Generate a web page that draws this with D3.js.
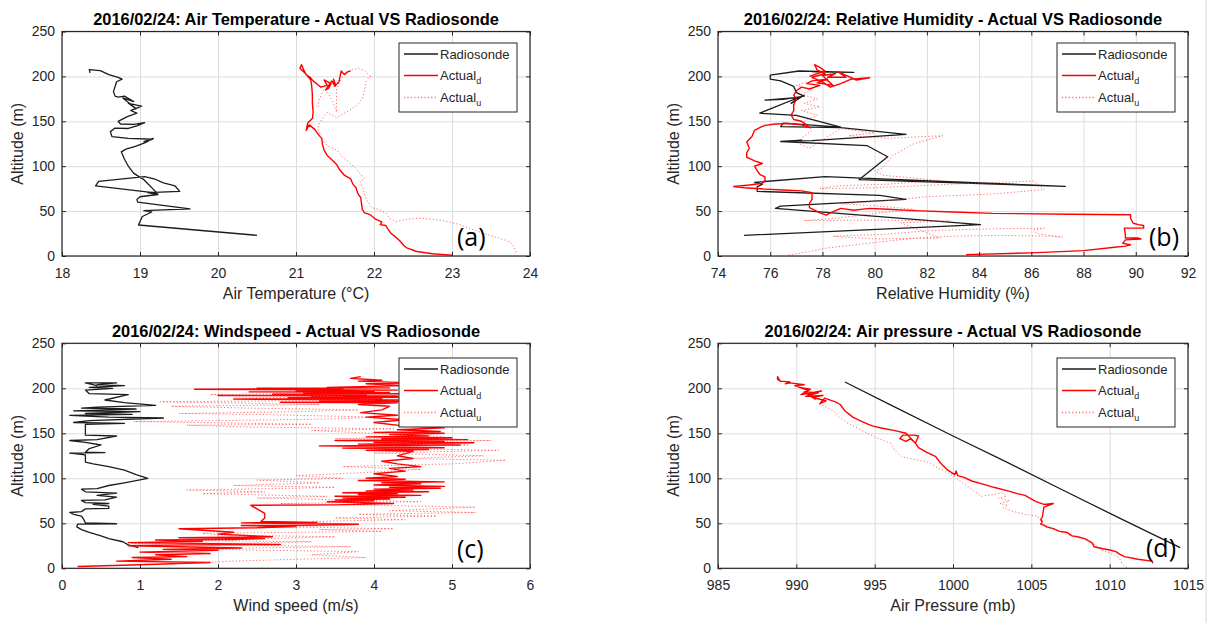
<!DOCTYPE html>
<html><head><meta charset="utf-8">
<script src="https://cdn.jsdelivr.net/npm/d3@7"></script>
<style>body{margin:0;background:#fff}svg{display:block}</style>
</head><body>
<svg id="c" width="1219" height="623"></svg>
<script>
// ---------- tick labels ----------
const altTicks = [0, 50, 100, 150, 200, 250];
const tempTicks = [18, 19, 20, 21, 22, 23, 24];
const rhTicks = [74, 76, 78, 80, 82, 84, 86, 88, 90, 92];
const windTicks = [0, 1, 2, 3, 4, 5, 6];
const pressTicks = [985, 990, 995, 1000, 1005, 1010, 1015];
const seriesNames = ["Radiosonde", "Actual", "Actual"];
const seriesSubs = ["", "d", "u"];

// ---------- (a) air temperature [°C, altitude m] ----------
const tempRadiosonde = [[20.50,23],[18.98,34.5],[19.03,44],[19.15,49],[19.05,50.5],[19.64,52.4],[18.97,60],[18.96,63],[19.0,66],[19.23,68.5],[19.10,70.5],[19.51,72],[19.45,78],[19.30,81.5],[19.18,86],[19.06,88.5],[18.47,83],[18.43,78],[19.22,70],[19.05,85],[18.92,92],[18.85,100],[18.80,108],[18.76,116],[18.82,119],[18.94,122],[19.06,126],[19.17,131],[19.05,127.5],[19.16,130],[18.85,131],[18.64,133],[18.62,138.5],[18.68,142.5],[18.85,142],[18.96,145],[19.06,148.5],[18.92,146.5],[18.75,147],[18.72,150],[18.83,155],[18.96,159],[18.88,162],[19.02,167],[18.85,170],[18.95,164],[18.78,176],[18.92,172],[18.80,178],[18.72,177],[18.68,178],[18.66,183],[18.70,194],[18.77,197],[18.72,199],[18.60,202],[18.49,206.5],[18.35,207.5],[18.36,204]];
const tempActualD = [[23.0,1],[22.75,2.5],[22.55,5],[22.42,9],[22.38,12],[22.33,17],[22.28,21],[22.22,25],[22.18,30],[22.15,34],[22.08,35],[22.10,38],[22.02,41],[21.98,44],[21.95,46],[21.88,48],[21.85,52],[21.84,58],[21.83,65],[21.79,70],[21.77,76],[21.73,80],[21.70,86],[21.62,90],[21.56,96],[21.52,102],[21.45,108],[21.40,112],[21.36,118],[21.34,124],[21.33,131],[21.28,136],[21.24,141],[21.17,146],[21.13,140],[21.15,148],[21.21,153],[21.22,160],[21.21,170],[21.21,180],[21.20,190],[21.19,196],[21.15,200],[21.10,205],[21.05,209],[21.07,213],[21.10,207],[21.13,202],[21.18,199],[21.22,195],[21.32,188],[21.40,190],[21.36,196],[21.45,192],[21.42,187],[21.38,185],[21.46,195],[21.50,189],[21.48,197],[21.51,190],[21.55,194],[21.58,206],[21.62,202],[21.66,205],[21.70,206]];
const tempActualU = [[23.82,4],[23.80,10],[23.74,16],[23.60,20],[23.45,24],[23.25,30],[23.10,35],[22.85,40],[22.60,42],[22.42,41],[22.28,38],[22.20,42],[22.15,48],[22.05,52],[21.97,54],[21.92,60],[21.88,68],[21.86,75],[21.82,83],[21.88,86],[21.84,90],[21.78,96],[21.70,103],[21.60,110],[21.52,118],[21.40,123],[21.35,128],[21.30,135],[21.28,142],[21.30,148],[21.36,156],[21.40,160],[21.52,154],[21.60,158],[21.68,162],[21.78,168],[21.85,175],[21.88,185],[21.90,195],[21.95,200],[21.97,199],[21.88,206],[21.80,209],[21.70,207],[21.62,204],[21.52,186],[21.52,160],[21.48,170],[21.42,180],[21.36,186],[21.30,175],[21.28,165]];

// ---------- (b) relative humidity [% , altitude m] ----------
const rhRadiosonde = [[75.0,23],[84.05,35],[76.2,53],[76.4,55.5],[81.2,63],[80.2,67.5],[75.5,72],[75.5,77],[75.7,80],[75.4,82],[78.1,88.5],[87.3,77.5],[79.4,85],[80.5,110.5],[79.7,123],[76.4,127.5],[77.2,129],[76.7,128],[77.6,128.5],[81.2,135.5],[78.7,143],[76.4,144],[76.5,148],[78.7,143.5],[77.0,156.5],[75.6,159],[77.3,179],[76.8,170],[77.1,176.5],[75.8,173.5],[76.5,174.5],[77.3,178],[77.0,182],[76.9,189],[76.4,195],[76.0,197],[76.0,201.5],[77.1,206],[79.2,204.5],[77.6,205]];
const rhActualD = [[83.5,1.5],[86.0,3.5],[88.0,6],[89.1,9.5],[89.6,11],[89.8,12.5],[89.5,14],[89.6,18],[90.2,19],[90.1,20],[89.6,20],[89.6,25],[89.56,31],[90.3,31],[90.3,34],[90.1,35],[89.9,36.5],[89.8,42],[89.8,46],[87.5,46.5],[84.5,47.5],[83.0,49],[81.5,50.5],[80.5,52],[79.8,53],[79.2,51],[78.7,53],[78.3,48],[78.15,45.5],[77.9,48],[77.7,51],[77.5,54],[77.5,58.5],[77.6,63],[77.6,68],[77.6,70.5],[77.2,72.5],[76.5,73.5],[75.8,74.5],[75.0,76],[74.6,77.4],[75.2,79],[75.7,81],[75.8,84],[75.8,88],[75.6,91],[75.5,95],[75.4,100],[75.7,103],[75.4,106],[75.1,110],[75.1,115],[75.2,120],[75.1,127],[75.3,133],[75.4,140],[75.6,143],[75.8,145.5],[76.2,147],[76.7,147.5],[77.2,146],[77.5,143],[77.3,148],[77.2,150],[76.9,152],[76.8,157],[76.9,162],[76.9,168],[77.0,175],[76.9,179],[77.0,184],[77.2,188],[77.5,186],[77.9,190],[77.4,192],[77.6,195],[78.2,197],[77.8,193],[78.4,190],[78.0,201],[78.5,203],[78.2,199],[78.9,199],[78.6,205],[79.3,196],[79.8,198.5],[79.1,197],[78.7,192],[78.3,188],[78.0,194],[77.6,199],[78.1,203],[77.8,207],[77.7,213],[77.9,210],[78.1,206],[77.5,200]];
const rhActualU = [[76.7,1],[77.5,5],[78.2,9],[80.3,16],[81.6,20],[82.9,22],[84.8,23],[86.7,22],[87.2,21],[86.2,25],[86.1,29],[86.5,31],[84.0,30],[82.0,28],[80.3,24],[78.4,22],[80.0,19],[82.5,20],[81.0,37],[82.9,39],[80.0,40],[77.3,39.5],[78.5,42],[80.2,48],[81.5,52],[80.0,56],[78.7,58],[80.6,62],[82.0,66],[84.5,69],[86.5,74],[86.1,83.5],[83.0,80],[80.0,76],[77.9,75],[78.5,78],[80.5,80],[82.5,84],[80.3,90],[80.0,95],[80.3,98],[80.7,112],[81.5,125],[82.6,134],[80.5,131],[79.0,134],[80.0,137],[78.7,142],[77.5,120],[77.1,125],[77.2,131],[77.6,140],[77.3,150],[77.8,157],[77.2,162],[77.9,166],[77.3,170],[77.8,175],[77.2,180],[77.6,185],[77.0,190],[77.4,194]];

// ---------- (c) wind speed [m/s, altitude m] ----------
const windRadiosonde = [[0.98,23],[0.85,26],[0.78,29.5],[0.6,33],[0.5,36],[0.35,40],[0.25,43],[0.19,46],[0.2,49],[0.7,49.5],[0.3,50.5],[0.28,54],[0.25,58],[0.15,60],[0.1,62],[0.25,63],[0.3,66],[0.6,66.5],[0.6,69],[0.4,71],[0.6,72],[0.3,73],[0.25,75.5],[0.55,76],[0.7,79],[0.45,81],[0.7,83.5],[0.3,85],[0.25,88],[0.45,88.5],[0.6,92],[0.8,95],[1.1,100],[0.95,104],[0.8,109],[0.6,113],[0.4,116],[0.3,118],[0.3,126],[0.1,128],[0.55,128.5],[0.3,129],[0.35,133],[0.5,137],[0.3,140],[0.1,142],[0.45,143],[0.7,147],[0.3,148],[0.3,155],[0.3,160],[0.8,161],[0.15,162],[0.35,164],[1.3,167],[0.6,168],[0.1,170],[0.9,171],[0.3,172],[1.0,174],[0.15,175],[0.6,176],[0.95,177],[0.25,178],[0.45,179],[1.2,181],[0.8,184],[0.55,187],[0.85,193],[0.35,194],[0.3,198],[0.65,200],[0.35,201],[0.8,203],[0.45,204],[0.7,206],[0.3,206],[0.45,203]];
const windActualD = [[0.2,2],[1.0,4],[1.9,6.5],[0.7,8],[1.4,10],[0.9,12],[1.6,13],[1.2,15],[1.9,16.5],[1.0,18],[2.0,20],[1.3,21],[2.3,22.5],[0.85,25],[1.6,26],[2.8,26.5],[0.85,28.5],[1.8,30],[1.2,31.5],[2.2,32],[2.6,33],[1.5,34],[2.7,35],[2.0,38],[2.2,40],[1.5,44],[2.5,45],[3.0,46.5],[2.3,47.5],[3.3,48],[3.8,49],[2.3,50.5],[3.27,51],[2.55,52],[2.6,56],[2.6,61],[2.42,70],[3.5,70.5],[4.25,72],[3.4,74],[4.0,75],[3.5,76],[4.2,77],[3.6,78],[4.4,79],[3.5,80],[4.6,81],[3.8,82],[4.3,83],[3.6,84],[4.7,85],[3.9,86],[4.5,87],[4.0,88],[4.85,89],[4.2,90],[4.9,91],[4.0,92.5],[4.6,94],[4.1,95],[4.9,96],[3.8,97.5],[4.4,99],[3.9,100],[4.3,102],[4.0,105],[4.4,108],[4.2,111],[4.6,113],[4.3,116],[4.1,119],[4.5,122],[4.3,125],[4.5,130],[3.9,131],[4.7,132],[3.6,133.5],[4.9,134],[3.3,136],[5.1,137],[3.8,138],[5.28,139.5],[4.0,140],[4.9,141],[3.5,142],[5.2,143],[4.1,144],[5.0,145],[3.9,146],[4.7,147],[4.2,148.5],[4.9,150],[4.0,151],[4.85,152],[4.3,154],[4.9,156],[4.4,158],[4.0,162],[4.4,165],[3.9,168],[4.3,170],[3.83,173],[4.1,176],[4.2,180],[3.8,182],[4.3,184],[2.8,184.5],[4.4,185.5],[3.3,186],[4.5,187],[2.2,188],[4.1,188.5],[2.9,189.5],[4.5,190],[3.2,190.5],[4.3,191.5],[2.0,192],[3.9,192.5],[2.7,193.5],[4.4,194],[3.1,194.5],[4.2,195.5],[2.4,196],[4.0,196.5],[3.0,197.5],[4.3,198],[1.7,199],[3.6,199.5],[2.5,200],[4.2,200.5],[3.4,201],[4.4,203],[3.9,205],[4.5,206],[3.8,208],[4.1,209],[3.7,211],[3.83,213]];
const windActualU = [[1.4,5],[2.2,8],[3.0,10],[3.9,12],[3.2,15],[3.8,18.5],[2.6,20],[1.6,22],[2.8,23],[3.7,24],[2.0,26],[0.9,27.5],[2.4,28],[3.2,29.5],[1.5,31],[2.6,33],[3.5,35],[2.0,37],[1.8,39],[3.0,40],[4.1,41],[3.3,43],[4.25,44],[2.9,46],[3.7,48],[3.2,52],[4.4,54],[3.5,56],[4.8,58],[3.8,60],[5.3,62],[4.2,64],[5.3,68],[3.9,70],[2.8,72],[4.6,74],[3.6,76],[2.5,78],[3.4,80],[1.8,83],[2.6,85],[1.6,87],[3.0,89],[3.5,90],[2.2,92],[3.3,95],[2.5,98],[3.6,100],[3.0,103],[3.8,106],[4.6,110],[3.6,113],[5.0,116],[5.69,120],[4.4,122],[5.4,125],[4.0,128],[5.6,131],[3.7,134],[5.2,137],[4.2,140],[5.5,142],[3.5,144],[4.9,146],[4.0,150],[3.2,153],[4.25,155],[2.4,157],[1.6,159],[3.2,160],[0.92,163],[2.0,164],[3.5,166],[4.0,168],[2.5,171],[1.5,172],[3.0,174],[3.8,176],[2.4,178],[1.4,180],[3.3,182],[1.26,185],[2.8,186],[4.0,187],[2.2,189],[3.6,191],[1.9,193],[3.0,194]];

// ---------- (d) air pressure [mb, altitude m] ----------
const pressRadiosonde = [[993.1,207],[996.2,180],[1000.0,147],[1003.3,119],[1007.0,87],[1010.6,56],[1014.5,23]];
const pressActualD = [[1012.76,5.5],[1012.7,8],[1011.8,10],[1010.94,13],[1010.6,16],[1010.4,18.5],[1010.08,20],[1009.5,22],[1009.0,24],[1008.9,28],[1008.6,31],[1008.4,33],[1007.95,35],[1007.6,36],[1007.3,39.6],[1007.2,40],[1006.8,41],[1006.4,44],[1006.0,46],[1005.8,48],[1005.6,49],[1005.7,52],[1005.6,54],[1005.7,57],[1005.75,62],[1005.8,68],[1006.4,72],[1005.8,71],[1005.3,74],[1004.9,78],[1004.6,81],[1004.1,83],[1003.5,86],[1002.6,90],[1001.8,94],[1001.2,97],[1000.7,101],[1000.3,103],[1000.2,108],[1000.1,104],[999.6,110],[999.2,117],[998.9,124],[998.3,129],[997.8,134],[997.6,139],[997.8,147],[997.5,148],[996.8,148],[996.6,144],[997.0,141],[997.3,144],[997.6,139],[997.0,150],[996.3,153],[995.5,155.6],[994.9,158],[994.6,160],[994.2,163],[993.6,168],[993.1,175],[992.8,182],[992.5,185],[991.8,189],[991.5,183],[991.9,186],[991.0,190],[991.7,192],[990.6,191],[991.4,195],[990.5,196],[991.2,188],[990.8,194],[991.6,197],[990.3,193],[990.9,199],[990.2,201],[990.7,198],[989.9,203],[990.5,204],[989.6,206],[989.3,205],[989.6,207],[989.0,208],[988.8,210],[988.8,213],[989.0,207]];
const pressActualU = [[1011.1,1],[1010.8,5],[1010.6,12],[1010.0,17],[1009.4,21],[1008.8,30],[1008.0,34],[1007.2,38],[1006.7,42],[1006.0,45],[1005.7,48],[1005.6,53],[1005.4,58],[1004.6,60],[1003.9,63],[1003.2,67],[1003.5,70],[1003.0,72],[1003.6,75],[1002.9,78],[1003.4,80],[1003.1,84],[1002.6,82],[1001.8,80],[1001.2,88],[1000.7,94],[1000.1,102],[999.2,110],[998.4,118],[997.5,121],[996.7,124],[996.3,131],[996.0,139],[995.0,146],[994.1,154],[993.4,160],[992.8,167],[992.3,176],[991.8,180],[991.4,183]];

// ---------- layout ----------
const panels = [
  {id:"a", left:62, right:530, top:31.5, bottom:256, dom:[18,24], ticks:tempTicks,
   title:"2016/02/24: Air Temperature - Actual VS Radiosonde", xlabel:"Air Temperature (°C)",
   series:[tempRadiosonde,tempActualD,tempActualU], legX:399, legY:43, tag:"(a)", tagX:457, tagY:246},
  {id:"b", left:718, right:1188, top:31.5, bottom:256, dom:[74,92], ticks:rhTicks,
   title:"2016/02/24: Relative Humidity - Actual VS Radiosonde", xlabel:"Relative Humidity (%)",
   series:[rhRadiosonde,rhActualD,rhActualU], legX:1057, legY:43, tag:"(b)", tagX:1149, tagY:246},
  {id:"c", left:62, right:530, top:343.3, bottom:568.3, dom:[0,6], ticks:windTicks,
   title:"2016/02/24: Windspeed - Actual VS Radiosonde", xlabel:"Wind speed (m/s)",
   series:[windRadiosonde,windActualD,windActualU], legX:399, legY:358, tag:"(c)", tagX:457, tagY:558},
  {id:"d", left:718, right:1188, top:343.3, bottom:568.3, dom:[985,1015], ticks:pressTicks,
   title:"2016/02/24: Air pressure - Actual VS Radiosonde", xlabel:"Air Pressure (mb)",
   series:[pressRadiosonde,pressActualD,pressActualU], legX:1057, legY:358, tag:"(d)", tagX:1146, tagY:557}
];
const styles = [
  {stroke:"#1c1c1c", width:1.3, dash:null, op:1},
  {stroke:"#ff0000", width:1.4, dash:null, op:1},
  {stroke:"#ff3c3c", width:1.0, dash:"1.2,2.2", op:0.75}
];
const FONT = "'Liberation Sans', Arial, sans-serif";
const svg = d3.select("#c");

// faint page edge line on the right
svg.append("line").attr("x1",1206).attr("x2",1206).attr("y1",0).attr("y2",623)
  .attr("stroke","#ebe5d6").attr("stroke-width",1.5);

panels.forEach(p => {
  const x = d3.scaleLinear().domain(p.dom).range([p.left, p.right]);
  const y = d3.scaleLinear().domain([0,250]).range([p.bottom, p.top]);
  const w = p.right - p.left, h = p.bottom - p.top;
  const g = svg.append("g");

  g.append("rect").attr("x",p.left).attr("y",p.top).attr("width",w).attr("height",h).attr("fill","#fff");

  // grid
  const gx = g.append("g").attr("transform",`translate(0,${p.bottom})`)
    .call(d3.axisBottom(x).tickValues(p.ticks).tickSize(-h).tickFormat(""));
  const gy = g.append("g").attr("transform",`translate(${p.left},0)`)
    .call(d3.axisLeft(y).tickValues(altTicks).tickSize(-w).tickFormat(""));
  [gx,gy].forEach(a => { a.select(".domain").remove(); a.selectAll("line").attr("stroke","#dcdcdc").attr("stroke-width",1); });

  // data
  const clipId = "clip"+p.id;
  g.append("clipPath").attr("id",clipId).append("rect")
    .attr("x",p.left).attr("y",p.top).attr("width",w).attr("height",h);
  const line = d3.line().x(d => x(d[0])).y(d => y(d[1]));
  const dg = g.append("g").attr("clip-path",`url(#${clipId})`);
  p.series.forEach((s,i) => {
    const st = styles[i];
    dg.append("path").datum(s).attr("d",line).attr("fill","none")
      .attr("stroke",st.stroke).attr("stroke-width",st.width).attr("stroke-opacity",st.op)
      .attr("stroke-linejoin","round").attr("stroke-dasharray",st.dash);
  });

  // axes with inward ticks and labels
  const ax = g.append("g").attr("transform",`translate(0,${p.bottom})`)
    .call(d3.axisBottom(x).tickValues(p.ticks).tickSizeInner(-4).tickSizeOuter(0).tickPadding(12).tickFormat(d3.format("d")));
  const ay = g.append("g").attr("transform",`translate(${p.left},0)`)
    .call(d3.axisLeft(y).tickValues(altTicks).tickSizeInner(-4).tickSizeOuter(0).tickPadding(7).tickFormat(d3.format("d")));
  const at = g.append("g").attr("transform",`translate(0,${p.top})`)
    .call(d3.axisTop(x).tickValues(p.ticks).tickSizeInner(-4).tickSizeOuter(0).tickFormat(""));
  const ar = g.append("g").attr("transform",`translate(${p.right},0)`)
    .call(d3.axisRight(y).tickValues(altTicks).tickSizeInner(-4).tickSizeOuter(0).tickFormat(""));
  [ax,ay,at,ar].forEach(a => {
    a.select(".domain").remove();
    a.selectAll("line").attr("stroke","#262626");
    a.selectAll("text").attr("font-family",FONT).attr("font-size",14).attr("fill","#262626");
  });

  // frame
  g.append("rect").attr("x",p.left).attr("y",p.top).attr("width",w).attr("height",h)
    .attr("fill","none").attr("stroke","#262626").attr("stroke-width",1.2);

  // title and labels
  g.append("text").attr("x",(p.left+p.right)/2).attr("y",p.top-6.5).attr("text-anchor","middle")
    .attr("font-family",FONT).attr("font-weight","bold").attr("font-size",16.4).attr("fill","#000").text(p.title);
  g.append("text").attr("x",(p.left+p.right)/2).attr("y",p.bottom+43).attr("text-anchor","middle")
    .attr("font-family",FONT).attr("font-size",16).attr("fill","#262626").text(p.xlabel);
  g.append("text").attr("transform",`translate(${p.left-44.5},${(p.top+p.bottom)/2}) rotate(-90)`)
    .attr("text-anchor","middle").attr("dy","0.35em")
    .attr("font-family",FONT).attr("font-size",16).attr("fill","#262626").text("Altitude (m)");

  // legend
  const lg = g.append("g").attr("transform",`translate(${p.legX},${p.legY})`);
  lg.append("rect").attr("width",118).attr("height",69).attr("fill","#fff")
    .attr("stroke","#262626").attr("stroke-width",1);
  const rows = [11, 32.5, 54.5];
  seriesNames.forEach((name,i) => {
    const st = styles[i];
    lg.append("line").attr("x1",5).attr("x2",39).attr("y1",rows[i]).attr("y2",rows[i])
      .attr("stroke",st.stroke).attr("stroke-width",st.width+0.3).attr("stroke-opacity",st.op)
      .attr("stroke-dasharray",st.dash);
    const t = lg.append("text").attr("x",41).attr("y",rows[i]+4.6)
      .attr("font-family",FONT).attr("font-size",13).attr("fill","#262626").text(name);
    if (seriesSubs[i]) t.append("tspan").attr("font-size",9).attr("dy",4).text(seriesSubs[i]);
  });

  // panel tag
  g.append("text").attr("x",p.tagX).attr("y",p.tagY)
    .attr("font-family","'Open Sans', 'Noto Sans', sans-serif").attr("font-size",25).attr("fill","#000").text(p.tag);
});
</script>
</body></html>
